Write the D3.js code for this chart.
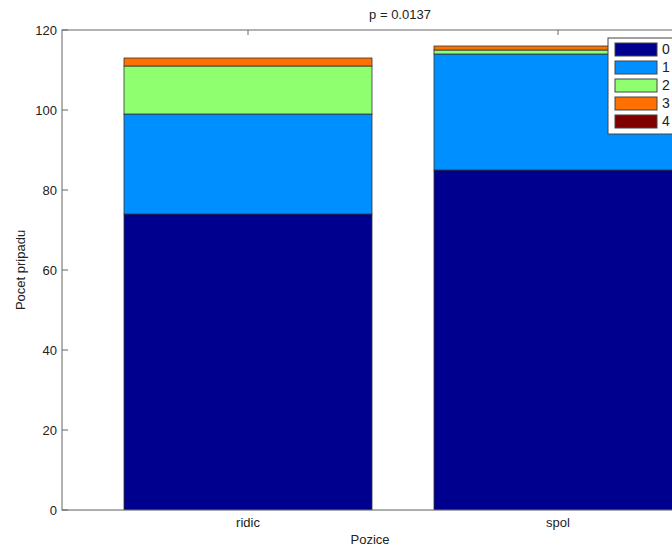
<!DOCTYPE html>
<html>
<head>
<meta charset="utf-8">
<script src="https://cdn.jsdelivr.net/npm/d3@7"></script>
<style>
  body { margin: 0; background: #fff; }
  svg { display: block; font-family: "Liberation Sans", Arial, sans-serif; }
</style>
</head>
<body>
<svg width="672" height="547"></svg>
<script>
// categories and counts per level (0..4)
var categories = ["ridic", "spol"];
var levels = ["0", "1", "2", "3", "4"];
var counts = [
  [74, 25, 12, 2, 0],   // ridic
  [85, 29, 1, 1, 0]     // spol
];
var yTicks = [0, 20, 40, 60, 80, 100, 120];
var colors = ["#00008f", "#008fff", "#8fff70", "#ff7000", "#800000"];

// plot area (note: "top" is a reserved window prop, so use plot*)
var plotL = 62, plotT = 30, plotB = 510, plotR = 744;

var svg = d3.select("svg");

var x = d3.scaleLinear().domain([0.4, 2.6]).range([plotL, plotR]);
var y = d3.scaleLinear().domain([0, 120]).range([plotB, plotT]);
var barW = 0.8;

// x ticks + labels (bottom ticks go under the bars, as in the original)
categories.forEach(function (c, i) {
  var cx = x(i + 1);
  svg.append("line").attr("x1", cx).attr("x2", cx)
    .attr("y1", plotB).attr("y2", plotB - 6).attr("stroke", "#666");
  svg.append("line").attr("x1", cx).attr("x2", cx)
    .attr("y1", plotT).attr("y2", plotT + 5).attr("stroke", "#666");
  svg.append("text")
    .attr("x", cx).attr("y", 527)
    .attr("text-anchor", "middle")
    .attr("font-size", 13).attr("fill", "#222")
    .text(c);
});

// stacked data
var rows = categories.map(function (c, i) {
  var r = { cat: c, idx: i + 1 };
  levels.forEach(function (l, j) { r[l] = counts[i][j]; });
  return r;
});
var stack = d3.stack().keys(levels)(rows);

var g = svg.append("g");
stack.forEach(function (layer, k) {
  g.selectAll(null)
    .data(layer.filter(function (d) { return d[1] > d[0]; }))
    .enter().append("rect")
    .attr("x", function (d) { return x(d.data.idx - barW / 2); })
    .attr("width", function (d) { return x(d.data.idx + barW / 2) - x(d.data.idx - barW / 2); })
    .attr("y", function (d) { return y(d[1]); })
    .attr("height", function (d) { return y(d[0]) - y(d[1]); })
    .attr("fill", colors[k])
    .attr("stroke", "#333")
    .attr("stroke-width", 0.8);
});

// axes box
svg.append("rect")
  .attr("x", plotL).attr("y", plotT)
  .attr("width", plotR - plotL).attr("height", plotB - plotT)
  .attr("fill", "none").attr("stroke", "#666").attr("stroke-width", 1);
svg.append("line")
  .attr("x1", plotL).attr("x2", plotR)
  .attr("y1", plotB + 0.5).attr("y2", plotB + 0.5)
  .attr("stroke", "#aaa").attr("stroke-width", 1);

// y ticks (inward)
var yt = svg.append("g");
yTicks.forEach(function (t) {
  yt.append("line")
    .attr("x1", plotL).attr("x2", plotL + 6)
    .attr("y1", y(t)).attr("y2", y(t))
    .attr("stroke", "#666");
  yt.append("text")
    .attr("x", plotL - 5).attr("y", y(t))
    .attr("dy", "0.35em")
    .attr("text-anchor", "end")
    .attr("font-size", 13)
    .attr("fill", "#222")
    .text(t);
});

// labels
svg.append("text")
  .attr("x", 370).attr("y", 544)
  .attr("text-anchor", "middle")
  .attr("font-size", 13).attr("fill", "#222")
  .text("Pozice");
svg.append("text")
  .attr("transform", "translate(25,270) rotate(-90)")
  .attr("text-anchor", "middle")
  .attr("font-size", 13).attr("fill", "#222")
  .text("Pocet pripadu");
svg.append("text")
  .attr("x", 400).attr("y", 19)
  .attr("text-anchor", "middle")
  .attr("font-size", 13).attr("fill", "#222")
  .text("p = 0.0137");

// legend
var lg = svg.append("g").attr("transform", "translate(608,38)");
lg.append("rect")
  .attr("width", 80).attr("height", 96)
  .attr("fill", "#fff").attr("stroke", "#444");
levels.forEach(function (l, k) {
  lg.append("rect")
    .attr("x", 7).attr("y", 5 + k * 18)
    .attr("width", 42).attr("height", 13)
    .attr("fill", colors[k]).attr("stroke", "#444");
  lg.append("text")
    .attr("x", 54).attr("y", 11.5 + k * 18)
    .attr("dy", "0.35em")
    .attr("font-size", 14).attr("fill", "#222")
    .text(l);
});
</script>
</body>
</html>
